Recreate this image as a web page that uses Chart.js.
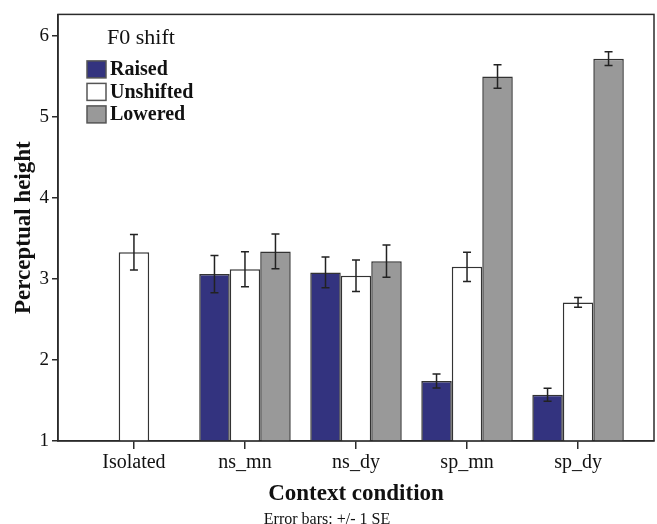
<!DOCTYPE html>
<html>
<head>
<meta charset="utf-8">
<script src="https://cdn.jsdelivr.net/npm/chart.js@4.4.1/dist/chart.umd.min.js"></script>
<style>
  html, body { margin: 0; padding: 0; background: #fff; }
  #wrap { width: 657px; height: 524px; }
</style>
</head>
<body>
<div id="wrap"><canvas id="chart" width="657" height="524"></canvas></div>
<script>
"use strict";

// chart data
var categories = ['Isolated', 'ns_mn', 'ns_dy', 'sp_mn', 'sp_dy'];
var raisedMean = [null, 3.06, 3.08, 1.74, 1.57];
var raisedSE = [null, 0.23, 0.19, 0.085, 0.08];
var unshiftedMean = [3.33, 3.12, 3.04, 3.15, 2.71];
var unshiftedSE = [0.22, 0.215, 0.195, 0.18, 0.06];
var loweredMean = [null, 3.34, 3.22, 5.50, 5.72];
var loweredSE = [null, 0.215, 0.20, 0.145, 0.085];
var yTicks = [1, 2, 3, 4, 5, 6];

var SERIF = "'Liberation Serif', 'Times New Roman', serif";
var INK = '#2b2b2b';

function points(values) {
  return values.map(function(v, i) { return {x: i, y: v}; });
}

function barSet(label, values, se, fill) {
  return {
    label: label,
    data: points(values),
    se: se,
    backgroundColor: fill,
    borderColor: '#333',
    borderWidth: 1.5,
    borderSkipped: false,
    categoryPercentage: 0.824,
    barPercentage: 1
  };
}

// +/- 1 SE whiskers on top of each bar
var errorBars = {
  id: 'errorBars',
  afterDatasetsDraw: function(chart) {
    var ctx = chart.ctx;
    var y = chart.scales.y;
    ctx.save();
    ctx.strokeStyle = '#222';
    ctx.lineWidth = 1.5;
    chart.data.datasets.forEach(function(ds, di) {
      var meta = chart.getDatasetMeta(di);
      meta.data.forEach(function(bar, i) {
        var m = ds.data[i].y;
        var se = ds.se[i];
        if (m === null || se === null) return;
        var top = y.getPixelForValue(m + se);
        var bot = y.getPixelForValue(m - se);
        ctx.beginPath();
        ctx.moveTo(bar.x, top); ctx.lineTo(bar.x, bot);
        ctx.moveTo(bar.x - 4, top); ctx.lineTo(bar.x + 4, top);
        ctx.moveTo(bar.x - 4, bot); ctx.lineTo(bar.x + 4, bot);
        ctx.stroke();
      });
    });
    ctx.restore();
  }
};

// box round the plot plus the legend inside its top left corner
var frameAndLegend = {
  id: 'frameAndLegend',
  afterDraw: function(chart) {
    var ctx = chart.ctx;
    var a = chart.chartArea;
    ctx.save();
    ctx.strokeStyle = INK;
    ctx.lineWidth = 1.5;
    ctx.strokeRect(a.left, a.top, a.right - a.left, a.bottom - a.top);

    ctx.fillStyle = '#111';
    ctx.textBaseline = 'middle';
    ctx.textAlign = 'center';
    ctx.font = '22px ' + SERIF;
    ctx.fillText('F0 shift', a.left + 83, a.top + 24);

    ctx.textAlign = 'left';
    ctx.font = 'bold 20px ' + SERIF;
    chart.data.datasets.forEach(function(ds, i) {
      var by = a.top + 46.5 + i * 22.5;
      ctx.fillStyle = ds.backgroundColor;
      ctx.fillRect(a.left + 29, by, 19, 17);
      ctx.strokeStyle = '#555';
      ctx.lineWidth = 1.5;
      ctx.strokeRect(a.left + 29, by, 19, 17);
      ctx.fillStyle = '#111';
      ctx.fillText(ds.label, a.left + 52, by + 9);
    });
    ctx.restore();
  }
};

new Chart(document.getElementById('chart'), {
  type: 'bar',
  data: {
    datasets: [
      barSet('Raised', raisedMean, raisedSE, '#33337f'),
      barSet('Unshifted', unshiftedMean, unshiftedSE, '#ffffff'),
      barSet('Lowered', loweredMean, loweredSE, '#999999')
    ]
  },
  options: {
    responsive: false,
    animation: false,
    layout: { padding: { top: 13, right: 3, left: 0, bottom: 0 } },
    plugins: {
      legend: { display: false },
      tooltip: { enabled: false },
      title: {
        display: true,
        position: 'bottom',
        text: 'Error bars: +/- 1 SE',
        color: '#111',
        font: { family: SERIF, size: 16, weight: 'normal', lineHeight: 0.58 },
        padding: 0
      }
    },
    scales: {
      x: {
        type: 'linear',
        offset: false,
        min: -0.684,
        max: 4.684,
        afterBuildTicks: function(s) {
          s.ticks = categories.map(function(c, i) { return {value: i}; });
        },
        afterFit: function(s) { s.height = 73.8; },
        grid: { offset: false, drawOnChartArea: false, tickLength: 8, color: INK, lineWidth: 1.5 },
        border: { display: true, color: INK, width: 1.5 },
        ticks: {
          color: '#111',
          padding: 2,
          font: { family: SERIF, size: 20 },
          callback: function(v) { return categories[v]; }
        },
        title: {
          display: true,
          text: 'Context condition',
          color: '#111',
          font: { family: SERIF, size: 23, weight: 'bold', lineHeight: 0.6 },
          padding: { top: 0, bottom: 14 }
        }
      },
      y: {
        min: 1,
        max: 6.267,
        afterBuildTicks: function(s) {
          s.ticks = yTicks.map(function(v) { return {value: v}; });
        },
        afterFit: function(s) { s.width = 58; },
        grid: { drawOnChartArea: false, tickLength: 6, color: INK, lineWidth: 1.5 },
        border: { display: true, color: INK, width: 1.5 },
        ticks: {
          color: '#111',
          padding: 3,
          font: { family: SERIF, size: 19 }
        },
        title: {
          display: true,
          text: 'Perceptual height',
          color: '#111',
          font: { family: SERIF, size: 23, weight: 'bold', lineHeight: 1.2 },
          padding: { top: 10, bottom: 0 }
        }
      }
    }
  },
  plugins: [errorBars, frameAndLegend]
});
</script>
</body>
</html>
